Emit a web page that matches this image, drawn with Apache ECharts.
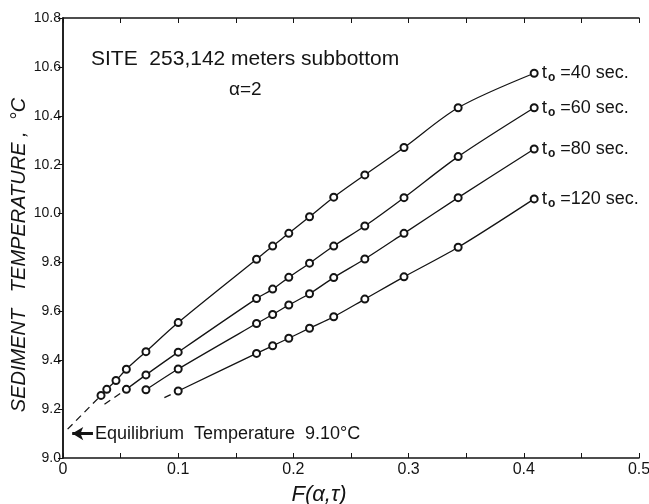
<!DOCTYPE html>
<html>
<head>
<meta charset="utf-8">
<script src="https://cdn.jsdelivr.net/npm/echarts@6/dist/echarts.min.js"></script>
<style>
  html, body { margin: 0; padding: 0; background: #fff; }
  #chart { width: 649px; height: 504px; }
</style>
</head>
<body>
<div id="chart"></div>
<script>
// F(alpha, tau) values at the measured times (shared by all four curves)
var fValues = [0.033, 0.038, 0.046, 0.055, 0.072, 0.100, 0.168, 0.182, 0.196, 0.214, 0.235, 0.262, 0.296, 0.343, 0.409];

// sediment temperature, one list per penetration time t0
var temp40 = [9.256, 9.281, 9.317, 9.363, 9.435, 9.554, 9.813, 9.867, 9.919, 9.987, 10.067, 10.158, 10.270, 10.433, 10.574];
var temp60 = [9.281, 9.340, 9.433, 9.652, 9.691, 9.739, 9.797, 9.867, 9.949, 10.065, 10.233, 10.433];
var temp80 = [9.279, 9.364, 9.550, 9.587, 9.626, 9.672, 9.738, 9.814, 9.919, 10.065, 10.264];
var temp120 = [9.274, 9.428, 9.459, 9.490, 9.531, 9.578, 9.650, 9.741, 9.862, 10.060];

var curveLabels = ['40 sec.', '60 sec.', '80 sec.', '120 sec.'];
var curveTemps = [temp40, temp60, temp80, temp120];

// dashed extrapolation: start point of each dashed stub (it ends on the first circle)
var dashStarts = [[0.004, 9.118], [0.036, 9.220], null, [0.088, 9.247]];

var equilibriumTemp = 9.10;

var yTicks = [9.0, 9.2, 9.4, 9.6, 9.8, 10.0, 10.2, 10.4, 10.6, 10.8];
var xTicks = [0, 0.1, 0.2, 0.3, 0.4, 0.5];

var FONT = '"Liberation Sans", Arial, sans-serif';
var INK = '#141414';

function pairUp(temps) {
    var offset = fValues.length - temps.length;
    return temps.map(function (t, i) {
        return [fValues[offset + i], t];
    });
}

var series = [];

curveTemps.forEach(function (temps, k) {
    var pts = pairUp(temps);
    var last = pts.length - 1;
    var data = pts.map(function (p, i) {
        if (i !== last) return p;
        return {
            value: p,
            label: {
                show: true,
                position: 'right',
                distance: 3,
                formatter: '{t|t}{o|o} {v|=' + curveLabels[k] + '}',
                color: INK,
                fontFamily: FONT,
                fontSize: 18,
                rich: {
                    t: { fontSize: 19, fontFamily: FONT, color: INK },
                    o: { fontSize: 12, fontFamily: FONT, color: INK, fontWeight: 'bold', padding: [9, 0, 0, 1] },
                    v: { fontSize: 18, fontFamily: FONT, color: INK }
                }
            }
        };
    });
    series.push({
        name: 't0 = ' + curveLabels[k],
        type: 'line',
        data: data,
        smooth: 0.3,
        showSymbol: true,
        showAllSymbol: true,
        symbol: 'emptyCircle',
        symbolSize: 7,
        itemStyle: { color: INK, borderWidth: 1.2 },
        lineStyle: { color: INK, width: 1.3 },
        z: 3
    });

    if (dashStarts[k]) {
        var dash = {
            type: 'line',
            data: [dashStarts[k], pts[0]],
            symbol: 'none',
            lineStyle: { color: INK, width: 1.3, type: [7, 5] },
            z: 2
        };
        if (k === 0) {
            // arrow pointing at the equilibrium temperature on the axis
            dash.markLine = {
                silent: true,
                symbol: ['none', 'arrow'],
                symbolSize: [10, 11],
                lineStyle: { color: INK, width: 3, type: 'solid' },
                label: {
                    show: true,
                    position: 'start',
                    distance: 2,
                    formatter: 'Equilibrium  Temperature  9.10\u00b0C',
                    color: INK,
                    fontFamily: FONT,
                    fontSize: 18
                },
                data: [[
                    { coord: [0.026, equilibriumTemp] },
                    { coord: [0.008, equilibriumTemp] }
                ]]
            };
        }
        series.push(dash);
    }
});

var chart = echarts.init(document.getElementById('chart'));

var option = {
    animation: false,
    backgroundColor: '#fff',
    title: [{
        text: 'SITE  253,142 meters subbottom',
        left: 86,
        top: 44,
        textStyle: { fontFamily: FONT, fontSize: 21, fontWeight: 'normal', color: INK }
    }, {
        text: '\u03b1=2',
        left: 224,
        top: 75,
        textStyle: { fontFamily: FONT, fontSize: 19, fontWeight: 'normal', color: INK }
    }],
    grid: { left: 63, right: 10, top: 18, bottom: 46, outerBoundsMode: 'none' },
    xAxis: [{
        type: 'value',
        min: 0,
        max: 0.5,
        interval: 0.05,
        name: 'F(\u03b1,\u03c4)',
        nameLocation: 'middle',
        nameGap: 26,
        nameTextStyle: { fontFamily: FONT, fontSize: 22, fontStyle: 'italic', color: INK, padding: [0, 64, 0, 0] },
        axisLine: { lineStyle: { color: INK, width: 1.5 } },
        axisTick: { inside: true, length: 5, lineStyle: { color: INK } },
        splitLine: { show: false },
        axisLabel: {
            color: INK,
            fontFamily: FONT,
            fontSize: 16,
            margin: 4,
            formatter: function (v) {
                for (var i = 0; i < xTicks.length; i++) {
                    if (Math.abs(v - xTicks[i]) < 1e-6) return xTicks[i] === 0 ? '0' : xTicks[i].toFixed(1);
                }
                return '';
            }
        }
    }, {
        type: 'value',
        position: 'top',
        min: 0,
        max: 0.5,
        interval: 0.05,
        axisLine: { show: true, lineStyle: { color: INK, width: 1.5 } },
        axisTick: { show: true, inside: true, length: 5, lineStyle: { color: INK } },
        axisLabel: { show: false },
        splitLine: { show: false }
    }],
    yAxis: [{
        type: 'value',
        min: 9.0,
        max: 10.8,
        interval: 0.2,
        name: 'SEDIMENT   TEMPERATURE ,  \u00b0C',
        nameLocation: 'middle',
        nameGap: 34,
        nameMoveOverlap: false,
        nameTextStyle: { fontFamily: FONT, fontSize: 20, fontStyle: 'italic', color: INK, padding: [0, 34, 0, 0] },
        axisLine: { show: true, lineStyle: { color: INK, width: 1.5 } },
        axisTick: { show: true, inside: false, length: 4, lineStyle: { color: INK } },
        splitLine: { show: false },
        axisLabel: {
            color: INK,
            fontFamily: FONT,
            fontSize: 14,
            margin: 2,
            formatter: function (v) {
                for (var i = 0; i < yTicks.length; i++) {
                    if (Math.abs(v - yTicks[i]) < 1e-6) return yTicks[i].toFixed(1);
                }
                return '';
            }
        }
    }, {
        type: 'value',
        position: 'right',
        min: 9.0,
        max: 10.8,
        interval: 0.2,
        axisLine: { show: true, lineStyle: { color: INK, width: 1.5 } },
        axisTick: { show: true, inside: true, length: 5, lineStyle: { color: INK } },
        axisLabel: { show: false },
        splitLine: { show: false }
    }],
    series: series
};

chart.setOption(option);
</script>
</body>
</html>
